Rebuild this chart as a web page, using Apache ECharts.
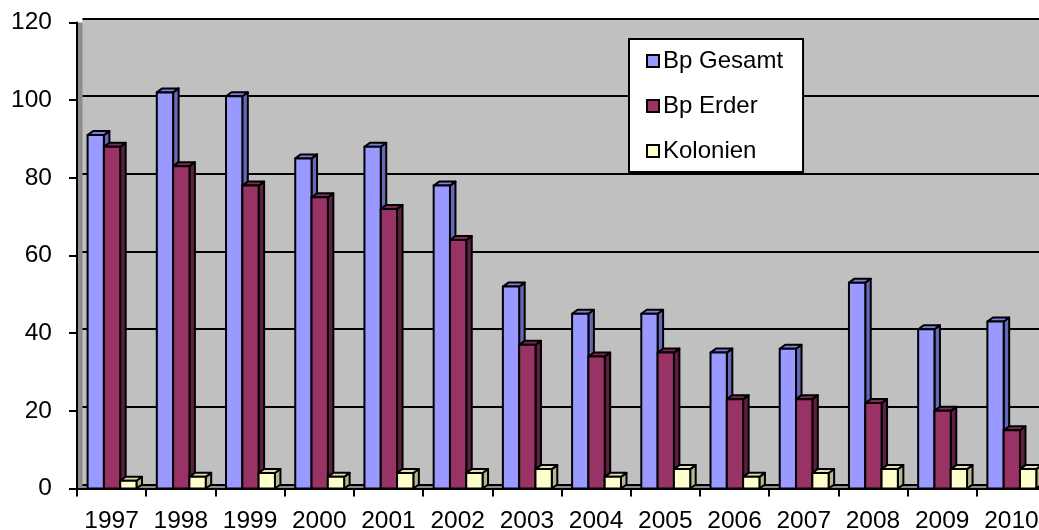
<!DOCTYPE html>
<html>
<head>
<meta charset="utf-8">
<script src="https://cdn.jsdelivr.net/npm/echarts@6/dist/echarts.min.js"></script>
<style>
  html, body { margin: 0; padding: 0; background: #fff; }
</style>
</head>
<body>
<div id="chart" style="width: 1039px; height: 530px"></div>
<script>
var years = ["1997", "1998", "1999", "2000", "2001", "2002", "2003", "2004", "2005", "2006", "2007", "2008", "2009", "2010"];
var bpGesamt = [91, 102, 101, 85, 88, 78, 52, 45, 45, 35, 36, 53, 41, 43];
var bpErder = [88, 83, 78, 75, 72, 64, 37, 34, 35, 23, 23, 22, 20, 15];
var kolonien = [2, 3, 4, 3, 4, 4, 5, 3, 5, 3, 4, 5, 5, 5];
var yTicks = [0, 20, 40, 60, 80, 100, 120];

var FONT = "'Liberation Sans', Arial, sans-serif";
var DX = 5.5, DY = 4; // fake 3D depth

// draws one excel-like 3d column: front, top and side faces
function bar3d(slot, front, top, side) {
  return function (params, api) {
    var cat = api.value(0);
    var base = api.coord([cat, 0]);
    var head = api.coord([cat, api.value(1)]);
    var band = api.size([1, 0])[0];
    var w = band * 0.2355;
    var x0 = base[0] - band / 2 + band * 0.153 + slot * w;
    var yb = base[1], yt = head[1];
    var line = { stroke: "#000", lineWidth: 2, lineJoin: "round" };
    return {
      type: "group",
      children: [
        {
          type: "polygon",
          shape: { points: [[x0 + w, yt], [x0 + w + DX, yt - DY], [x0 + w + DX, yb - DY], [x0 + w, yb]] },
          style: Object.assign({ fill: side }, line)
        },
        {
          type: "polygon",
          shape: { points: [[x0, yt], [x0 + DX, yt - DY], [x0 + w + DX, yt - DY], [x0 + w, yt]] },
          style: Object.assign({ fill: top }, line)
        },
        {
          type: "rect",
          shape: { x: x0, y: yt, width: w, height: yb - yt },
          style: Object.assign({ fill: front }, line)
        }
      ]
    };
  };
}

function toItems(arr) {
  var out = [];
  for (var i = 0; i < arr.length; i++) out.push([i, arr[i]]);
  return out;
}

var myChart = echarts.init(document.getElementById("chart"));
var option = {
  animation: false,
  backgroundColor: "#fff",
  textStyle: { fontFamily: FONT },
  grid: [
    // front axes + floor/wall shade
    { left: 77, top: 22.5, width: 969, height: 466, backgroundColor: "#8c8c8c", show: true, borderWidth: 0, outerBoundsMode: "none", containLabel: false },
    // back wall with gridlines
    { left: 82.5, top: 18.5, width: 969, height: 466, backgroundColor: "#c0c0c0", show: true, borderWidth: 0, outerBoundsMode: "none", containLabel: false }
  ],
  legend: {
    orient: "vertical",
    left: 629,
    top: 39,
    backgroundColor: "#fff",
    borderColor: "#000",
    borderWidth: 2,
    padding: [10, 20, 9, 17],
    itemGap: 21,
    itemWidth: 12,
    itemHeight: 12,
    icon: "rect",
    textStyle: { fontFamily: FONT, fontSize: 24, color: "#000", lineHeight: 23, padding: [0, 0, 0, -1] },
    data: ["Bp Gesamt", "Bp Erder", "Kolonien"]
  },
  xAxis: [
    {
      type: "category",
      gridIndex: 0,
      data: years,
      boundaryGap: true,
      axisLine: { lineStyle: { color: "#000", width: 2 } },
      axisTick: { show: true, length: 8, lineStyle: { color: "#000", width: 2 } },
      axisLabel: { color: "#000", fontSize: 24.5, fontFamily: FONT, margin: 20, interval: 0, hideOverlap: false },
      splitLine: { show: false }
    },
    {
      type: "category",
      gridIndex: 1,
      data: years,
      show: false
    }
  ],
  yAxis: [
    {
      type: "value",
      gridIndex: 0,
      min: 0,
      max: yTicks[yTicks.length - 1],
      interval: yTicks[1] - yTicks[0],
      axisLine: { show: true, lineStyle: { color: "#000", width: 2 } },
      axisTick: { show: true, length: 8, lineStyle: { color: "#000", width: 2 } },
      axisLabel: { color: "#000", fontSize: 24.5, fontFamily: FONT, margin: 25 },
      splitLine: { show: false }
    },
    {
      type: "value",
      gridIndex: 1,
      min: 0,
      max: yTicks[yTicks.length - 1],
      interval: yTicks[1] - yTicks[0],
      axisLine: { show: false },
      axisTick: { show: false },
      axisLabel: { show: false },
      splitLine: { show: true, lineStyle: { color: "#000", width: 2 } }
    }
  ],
  series: [
    {
      name: "Bp Gesamt",
      type: "custom",
      xAxisIndex: 0,
      yAxisIndex: 0,
      z: 3,
      itemStyle: { color: "#9999ff", borderColor: "#000", borderWidth: 2 },
      renderItem: bar3d(0, "#9999ff", "#7d7fe0", "#6668b8"),
      encode: { x: 0, y: 1 },
      data: toItems(bpGesamt)
    },
    {
      name: "Bp Erder",
      type: "custom",
      xAxisIndex: 0,
      yAxisIndex: 0,
      z: 4,
      itemStyle: { color: "#993366", borderColor: "#000", borderWidth: 2 },
      renderItem: bar3d(1, "#993366", "#7d2a54", "#5e1f40"),
      encode: { x: 0, y: 1 },
      data: toItems(bpErder)
    },
    {
      name: "Kolonien",
      type: "custom",
      xAxisIndex: 0,
      yAxisIndex: 0,
      z: 5,
      itemStyle: { color: "#ffffcc", borderColor: "#000", borderWidth: 2 },
      renderItem: bar3d(2, "#ffffcc", "#e0e0b0", "#b8b88f"),
      encode: { x: 0, y: 1 },
      data: toItems(kolonien)
    }
  ]
};
myChart.setOption(option);
</script>
</body>
</html>
